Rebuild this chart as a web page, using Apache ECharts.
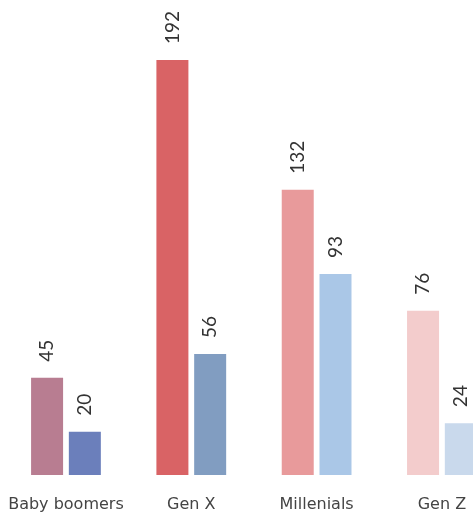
<!DOCTYPE html>
<html>
<head>
<meta charset="utf-8">
<script src="https://cdn.jsdelivr.net/npm/echarts@6/dist/echarts.min.js"></script>
<style>
  html, body { margin: 0; padding: 0; background: #fff; }
  #chart { width: 473px; height: 515px; }
</style>
</head>
<body>
<div id="chart"></div>
<script>
// Generations and the two values shown for each
const categories = ['Baby boomers', 'Gen X', 'Millenials', 'Gen Z'];
const firstValues = [45, 192, 132, 76];
const secondValues = [20, 56, 93, 24];

// Per-bar fills: warm tones for the first bar, cool tones for the second
const firstColors = ['#b87d91', '#d96365', '#e89a9b', '#f3cccc'];
const secondColors = ['#6b7fbb', '#819dc1', '#aac7e7', '#c9d9ec'];

const valueLabel = {
  show: true,
  position: 'top',
  rotate: 90,
  align: 'left',
  verticalAlign: 'middle',
  distance: 16,
  fontFamily: 'Lato, "Open Sans", sans-serif',
  fontSize: 19,
  color: '#333'
};

function colored(values, colors) {
  return values.map((v, i) => ({ value: v, itemStyle: { color: colors[i] } }));
}

const chart = echarts.init(document.getElementById('chart'));
chart.setOption({
  animation: false,
  // the last group runs past the right edge, so the plot is wider than the page
  grid: { left: 3.3, top: 60, width: 501.3, bottom: 40, containLabel: false, outerBoundsMode: 'none' },
  xAxis: {
    type: 'category',
    data: categories,
    axisLine: { show: false },
    axisTick: { show: false },
    axisLabel: { fontFamily: '"DejaVu Sans", sans-serif', fontSize: 16, color: '#444', margin: 22, interval: 0 }
  },
  yAxis: {
    type: 'value',
    min: 0,
    max: 192,
    show: false,
    splitLine: { show: false }
  },
  series: [
    {
      name: 'first',
      type: 'bar',
      barWidth: 32,
      barGap: '18%',
      data: colored(firstValues, firstColors),
      label: valueLabel
    },
    {
      name: 'second',
      type: 'bar',
      barWidth: 32,
      data: colored(secondValues, secondColors),
      label: valueLabel
    }
  ]
});
</script>
</body>
</html>
